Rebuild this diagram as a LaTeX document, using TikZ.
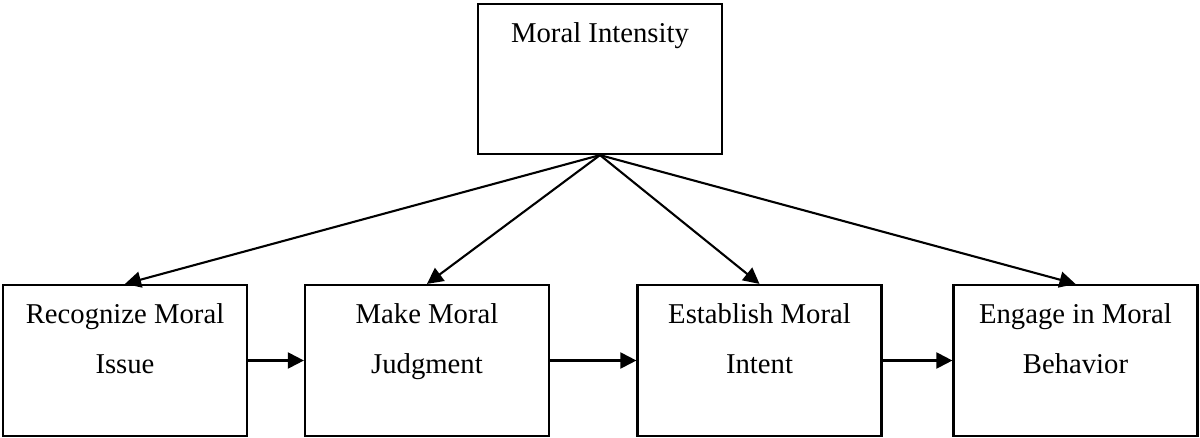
\documentclass[tikz,border=0pt]{standalone}
\usepackage{fontspec}
\setmainfont{Liberation Serif}
\usetikzlibrary{arrows.meta}
\begin{document}
\begin{tikzpicture}[x=1pt,y=-1pt,
  box/.style={draw, line width=2.2pt, minimum width=244pt, minimum height=151pt, inner sep=0pt},
  txt/.style={anchor=base, inner sep=0pt, font=\fontsize{28.7}{34}\selectfont},
  arr/.style={line width=2.1pt, -{Triangle[length=16pt,width=16pt]}}]
\useasboundingbox (0,0) rectangle (1200,437);
% boxes
\node[box, minimum height=150pt] (mi) at (600,79) {};
\node[box] (b1) at (125,360.5) {};
\node[box] (b2) at (427,360.5) {};
\node[box] (b3) at (759.5,360.5) {};
\node[box] (b4) at (1075.5,360.5) {};
% texts
\node[txt] (mit) at (600,42) {Moral Intensity};
\node[txt] (b1a) at (125,323) {Recognize Moral};
\node[txt] (b1b) at (125,373) {Issue};
\node[txt] (b2a) at (427,323) {Make Moral};
\node[txt] (b2b) at (427,373) {Judgment};
\node[txt] (b3a) at (759.5,323) {Establish Moral};
\node[txt] (b3b) at (759.5,373) {Intent};
\node[txt] (b4a) at (1075.5,323) {Engage in Moral};
\node[txt] (b4b) at (1075.5,373) {Behavior};
% connectors
\draw[arr] (mi.south) -- (b1.north);
\draw[arr] (mi.south) -- (b2.north);
\draw[arr] (mi.south) -- (b3.north);
\draw[arr] (mi.south) -- (b4.north);
\draw[arr] (b1.east) -- (b2.west);
\draw[arr] (b2.east) -- (b3.west);
\draw[arr] (b3.east) -- (b4.west);
\end{tikzpicture}
\end{document}
